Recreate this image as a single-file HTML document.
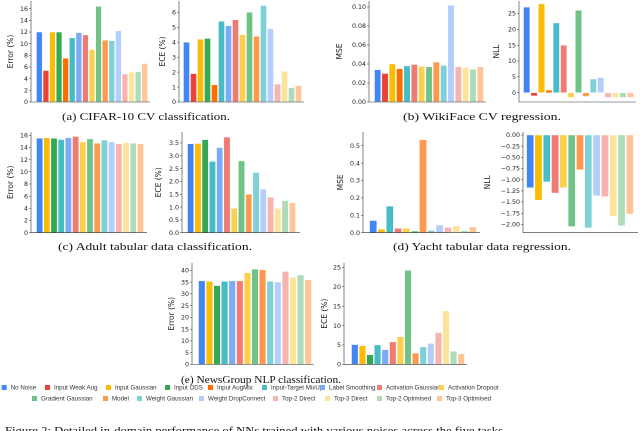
<!DOCTYPE html>
<html><head><meta charset="utf-8"><style>
html,body{margin:0;padding:0;background:#fff;width:640px;height:431px;overflow:hidden}
svg{display:block}
.tk{font-family:"DejaVu Sans","Liberation Sans",sans-serif;font-size:6.3px;fill:#222}
.yl{font-family:"DejaVu Sans","Liberation Sans",sans-serif;font-size:7.5px;fill:#222}
.cap{font-family:"Liberation Serif",serif;font-size:10.5px;fill:#111}
.lg{font-family:"Liberation Sans",sans-serif;font-size:6.2px;fill:#333}
</style></head><body>
<svg id="fig" width="640" height="431" viewBox="0 0 640 431" xmlns="http://www.w3.org/2000/svg"></svg>
<script>
const seriesNames = ["No Noise","Input Weak Aug","Input Gaussian","Input ODS","Input AugMix","Input-Target MixUp","Label Smoothing","Activation Gaussian","Activation Dropout","Gradient Gaussian","Model","Weight Gaussian","Weight DropConnect","Top-2 Direct","Top-3 Direct","Top-2 Optimised","Top-3 Optimised"];
const seriesColors = ["#4285f4","#ea4335","#fbbc04","#34a853","#ff6d01","#46bdc6","#7baaf7","#f07b72","#fcd04f","#71c287","#ff994d","#7ed1d7","#b3cefb","#f7b4ae","#fde49b","#aedcba","#ffc599"];

const cifarSeries = [0,1,2,3,4,5,6,7,8,9,10,11,12,13,14,15,16];
const cifarError = [12,5.4,12,12,7.5,11,11.9,11.5,9,16.4,10.6,10.5,12.2,4.8,5.1,5.2,6.6];
const cifarECE = [4.0,1.9,4.2,4.25,1.15,5.4,5.1,5.5,4.5,6.0,4.4,6.45,4.9,1.2,2.05,0.95,1.1];
const wikiSeries = [0,1,2,4,5,7,8,9,10,11,12,13,14,15,16];
const wikiMSE = [0.034,0.030,0.040,0.035,0.038,0.0395,0.0375,0.037,0.042,0.0385,0.102,0.037,0.0365,0.0345,0.037];
const wikiNLL = [27,-1,28,0.8,22,15,-1.5,26,-1.2,4.3,4.8,-1.5,-1.5,-1.5,-1.5];
const adultSeries = [0,2,3,5,6,7,8,9,10,11,12,13,14,15,16];
const adultError = [15.5,15.6,15.5,15.3,15.6,15.8,14.9,15.4,14.7,15.2,14.9,14.6,14.8,14.7,14.6];
const adultECE = [3.47,3.48,3.63,2.78,3.32,3.73,0.95,2.8,1.5,2.35,1.7,1.38,0.95,1.25,1.17];
const yachtSeries = [0,2,5,7,8,9,10,11,12,13,14,15,16];
const yachtMSE = [0.07,0.02,0.153,0.025,0.025,0.01,0.535,0.013,0.044,0.03,0.038,0.012,0.033];
const yachtNLL = [-1.18,-1.46,-1.05,-1.3,-1.18,-2.05,-0.78,-2.08,-1.36,-1.38,-1.82,-2.03,-1.77];
const newsSeries = [0,2,3,5,6,7,8,9,10,11,12,13,14,15,16];
const newsError = [35.5,35.3,33.5,35.3,35.5,35.5,39,40.5,40.2,35.3,35,39.5,37,38,36];
const newsECE = [5.1,4.8,2.5,5,3.8,5.8,7.1,24.2,2.9,4.5,5.4,8.2,13.8,3.4,2.7];

const cifarErrTicks = [0,2,4,6,8,10,12,14,16];
const cifarEceTicks = [0,1,2,3,4,5,6];
const wikiMseTicks = [0,0.02,0.04,0.06,0.08,0.10];
const wikiNllTicks = [0,5,10,15,20,25];
const adultErrTicks = [0,2,4,6,8,10,12,14,16];
const adultEceTicks = [0,0.5,1,1.5,2,2.5,3,3.5];
const yachtMseTicks = [0,0.1,0.2,0.3,0.4,0.5];
const yachtNllTicks = [0,-0.25,-0.5,-0.75,-1,-1.25,-1.5,-1.75,-2];
const newsErrTicks = [0,5,10,15,20,25,30,35,40];
const newsEceTicks = [0,5,10,15,20,25];

const NS="http://www.w3.org/2000/svg";
const svg=document.getElementById('fig');
function mk(tag,attrs,parent){const e=document.createElementNS(NS,tag);for(const k in attrs)e.setAttribute(k,attrs[k]);(parent||svg).appendChild(e);return e;}

function panel(name,cfg,series,vals,ticks){
  const g=mk('g',{});
  
  
  const y=v=>cfg.y0-(v*cfg.k);
  const n=vals.length, slot=(cfg.xe-cfg.xs)/n, bw=slot*0.86;
  vals.forEach((v,i)=>{
    const x=cfg.xs+i*slot+(slot-bw)/2;
    const top=Math.min(y(v),cfg.y0), h=Math.abs(y(v)-cfg.y0);
    const r=mk('rect',{x:x,y:top,width:bw,height:Math.max(h,0.3),fill:seriesColors[series[i]],stroke:'#fff','stroke-width':0.4},g);
    
    
  });
  mk('line',{x1:cfg.sx,x2:cfg.sx,y1:cfg.top,y2:cfg.bot,stroke:'#333','stroke-width':0.6},g);
  mk('line',{x1:cfg.sx,x2:cfg.ax,y1:cfg.bot,y2:cfg.bot,stroke:'#333','stroke-width':0.6},g);
  ticks.forEach(t=>{
    const yy=y(t);
    mk('line',{x1:cfg.sx-2,x2:cfg.sx,y1:yy,y2:yy,stroke:'#333','stroke-width':0.5},g);
    const s=(t<0?'\u2212':'')+Math.abs(t).toFixed(cfg.dec);
    const tx=mk('text',{x:cfg.sx-3,y:yy+2.2,'text-anchor':'end',class:'tk'},g);
    tx.textContent=s;
    
    
  });
  const cy=(cfg.top+cfg.bot)/2;
  const yl=mk('text',{x:cfg.lx,y:cy,transform:`rotate(-90 ${cfg.lx} ${cy})`,'text-anchor':'middle',class:'yl'},g);
  yl.textContent=cfg.label;
  
  
}

panel('cifar-error',{y0:102,k:5.83,xs:36,xe:148,sx:31,ax:150,top:1,bot:102,lx:13,label:'Error (%)',dec:0},cifarSeries,cifarError,cifarErrTicks);
panel('cifar-ece',{y0:102,k:14.95,xs:183,xe:302,sx:179,ax:304,top:1,bot:102,lx:165,label:'ECE (%)',dec:0},cifarSeries,cifarECE,cifarEceTicks);
panel('wiki-mse',{y0:102,k:950,xs:374,xe:484,sx:369,ax:486,top:1,bot:102,lx:342,label:'MSE',dec:2},wikiSeries,wikiMSE,wikiMseTicks);
panel('wiki-nll',{y0:92.7,k:3.17,xs:523,xe:634,sx:519,ax:636,top:1,bot:102,lx:499,label:'NLL',dec:0},wikiSeries,wikiNLL,wikiNllTicks);
panel('adult-error',{y0:232.7,k:6.09,xs:36,xe:144,sx:31,ax:147,top:132,bot:232.7,lx:13,label:'Error (%)',dec:0},adultSeries,adultError,adultErrTicks);
panel('adult-ece',{y0:232.7,k:25.63,xs:187,xe:296,sx:182,ax:300,top:132,bot:232.7,lx:161,label:'ECE (%)',dec:1},adultSeries,adultECE,adultEceTicks);
panel('yacht-mse',{y0:232.7,k:174,xs:369,xe:477,sx:363,ax:480,top:132,bot:232.7,lx:343,label:'MSE',dec:1},yachtSeries,yachtMSE,yachtMseTicks);
panel('yacht-nll',{y0:135,k:44.65,xs:526,xe:634,sx:523,ax:638,top:132,bot:232.7,lx:490,label:'NLL',dec:2},yachtSeries,yachtNLL,yachtNllTicks);
panel('news-error',{y0:364.5,k:2.355,xs:198,xe:312,sx:192,ax:314,top:263,bot:364.5,lx:174,label:'Error (%)',dec:0},newsSeries,newsError,newsErrTicks);
panel('news-ece',{y0:364.4,k:3.885,xs:351,xe:465,sx:344,ax:467,top:263,bot:364.4,lx:327,label:'ECE (%)',dec:0},newsSeries,newsECE,newsEceTicks);

const caps=[["(a) CIFAR-10 CV classification.",146,120,168],["(b) WikiFace CV regression.",482,120,158],["(c) Adult tabular data classification.",155,250,194],["(d) Yacht tabular data regression.",482,250,178],["(e) NewsGroup NLP classification.",261,383,160]];
caps.forEach((c,i)=>{
  const t=mk('text',{x:c[1],y:c[2],'text-anchor':'middle',class:'cap',textLength:c[3],lengthAdjust:'spacingAndGlyphs'});
  t.textContent=c[0];
  
  
});

const legendX=[1.7,45,106,165,208,262,320,377,439,32,103,137,199,273,325,377,437];
seriesNames.forEach((nm,i)=>{
  const row=i<9?0:1, yy=row?396:385;
  const g=mk('g',{});
  
  
  mk('rect',{x:legendX[i],y:yy,width:5,height:5,fill:seriesColors[i]},g);
  const t=mk('text',{x:legendX[i]+9,y:yy+4.6,class:'lg'},g);
  t.textContent=nm;
});

const fc=mk('text',{x:254,y:434,'text-anchor':'middle',class:'cap',style:'font-size:11px',textLength:498,lengthAdjust:'spacingAndGlyphs'});
fc.textContent="Figure 2: Detailed in-domain performance of NNs trained with various noises across the five tasks";


</script>
</body></html>
